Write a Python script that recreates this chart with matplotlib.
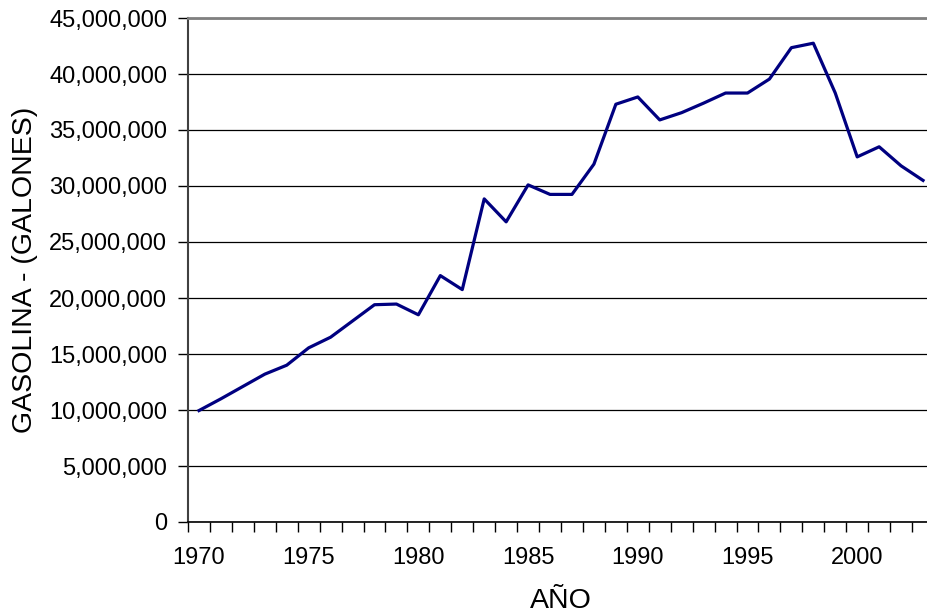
import numpy as np
import matplotlib
matplotlib.use('Agg')
import matplotlib.pyplot as plt
from matplotlib.ticker import FuncFormatter, FixedLocator

# Consumo anual de gasolina (galones)
years = list(range(1970, 2004))
gasolina = [
    9.95e6, 11.0e6, 12.1e6, 13.2e6, 14.0e6, 15.55e6, 16.5e6, 17.95e6, 19.4e6, 19.46e6,
    18.5e6, 22.0e6, 20.75e6, 28.85e6, 26.8e6, 30.1e6, 29.25e6, 29.25e6, 31.95e6, 37.3e6,
    37.95e6, 35.9e6, 36.55e6, 37.4e6, 38.3e6, 38.3e6, 39.55e6, 42.35e6, 42.75e6, 38.3e6,
    32.6e6, 33.5e6, 31.8e6, 30.5e6,
]
label_years = [1970, 1975, 1980, 1985, 1990, 1995, 2000]
y_ticks = list(range(0, 45000001, 5000000))

plt.rcParams['font.family'] = ['Liberation Sans', 'DejaVu Sans']

fig = plt.figure(figsize=(9.28, 6.16), dpi=100)
# axes run a little past the right edge, like the cropped original
ax = fig.add_axes([188 / 928, 94 / 616, 746 / 928, 504 / 616])

ax.plot(years, gasolina, color='#000080', linewidth=2.3, zorder=3)

ax.set_xlim(1969.5, 2003.5)
ax.set_ylim(0, 45000000)

ax.set_yticks(y_ticks)
ax.yaxis.set_major_formatter(FuncFormatter(lambda v, p: f"{int(v):,}"))
ax.grid(axis='y', color='black', linewidth=0.9)
ax.set_axisbelow(True)

# category labels on data points, tick marks on category borders
ax.xaxis.set_major_locator(FixedLocator(label_years))
ax.xaxis.set_minor_locator(FixedLocator(np.arange(1969.5, 2004, 1)))
ax.tick_params(axis='x', which='major', length=0, pad=18, labelsize=17)
ax.tick_params(axis='x', which='minor', length=7, width=1, direction='out')
ax.tick_params(axis='y', length=7, width=1, direction='out', pad=8, labelsize=17)

ax.spines['top'].set_color('#808080')
ax.spines['top'].set_linewidth(2)
ax.spines['right'].set_visible(False)
ax.spines['left'].set_color('#404040')
ax.spines['left'].set_linewidth(1.5)
ax.spines['bottom'].set_linewidth(1.2)

ax.set_xlabel("AÑO", fontsize=20.5, labelpad=14)
ax.set_ylabel("GASOLINA - (GALONES)", fontsize=20.5, labelpad=8)

plt.savefig('out.png', dpi=100)
